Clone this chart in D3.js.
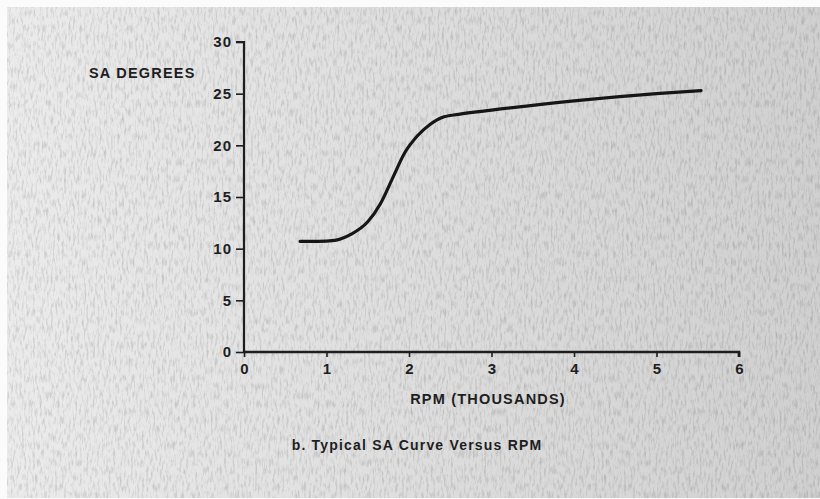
<!DOCTYPE html>
<html>
<head>
<meta charset="utf-8">
<script src="https://cdn.jsdelivr.net/npm/d3@7"></script>
<style>
  html, body { margin: 0; padding: 0; background: #fff; }
  svg { display: block; }
  text { font-family: "Liberation Sans", Arial, Helvetica, sans-serif; fill: #1e1e1e; }
</style>
</head>
<body>
<script>
// Spark advance (degrees) against engine speed (thousands of RPM)
const rpm = [0.68, 0.9, 1.1, 1.3, 1.5, 1.65, 1.8, 1.95, 2.1, 2.25, 2.4, 2.6, 3.0, 4.0, 5.0, 5.54];
const saDegrees = [10.7, 10.7, 10.8, 11.4, 12.6, 14.3, 16.8, 19.3, 20.9, 22.0, 22.7, 23.0, 23.4, 24.3, 25.0, 25.3];

const xTicks = [0, 1, 2, 3, 4, 5, 6];
const yTicks = [0, 5, 10, 15, 20, 25, 30];

const yTitle = "SA DEGREES";
const xTitle = "RPM (THOUSANDS)";
const caption = "b. Typical SA Curve Versus RPM";

const W = 820, H = 499;
const svg = d3.select("body").append("svg").attr("width", W).attr("height", H);

// paper tone: lighter on the left, greyer to the right, with soft grain
const defs = svg.append("defs");
const grad = defs.append("linearGradient").attr("id", "paper").attr("x1", 0).attr("x2", 1).attr("y1", 0).attr("y2", 0);
grad.append("stop").attr("offset", "0%").attr("stop-color", "#ebebeb");
grad.append("stop").attr("offset", "45%").attr("stop-color", "#dfdfdf");
grad.append("stop").attr("offset", "100%").attr("stop-color", "#d0d0d0");

const grain = defs.append("filter").attr("id", "grain").attr("x", 0).attr("y", 0).attr("width", "100%").attr("height", "100%");
grain.append("feTurbulence").attr("type", "fractalNoise").attr("baseFrequency", "0.45 0.12").attr("numOctaves", 3).attr("seed", 7).attr("result", "n");
grain.append("feColorMatrix").attr("in", "n").attr("type", "matrix")
  .attr("values", "0 0 0 0 0  0 0 0 0 0  0 0 0 0 0  0 0 0 -1.2 0.66");

svg.append("rect").attr("x", 0).attr("y", 0).attr("width", W).attr("height", H).attr("fill", "#fbfbfb");
svg.append("rect").attr("x", 7).attr("y", 7).attr("width", W - 7).attr("height", H - 8).attr("fill", "url(#paper)");
svg.append("rect").attr("x", 7).attr("y", 7).attr("width", W - 7).attr("height", H - 8)
  .attr("filter", "url(#grain)").attr("opacity", 0.28);

const x = d3.scaleLinear().domain([0, 6]).range([244, 739]);
const y = d3.scaleLinear().domain([0, 30]).range([352, 42]);

// y axis
const yAxis = svg.append("g").attr("transform", `translate(${x(0)},0)`)
  .call(d3.axisLeft(y).tickValues(yTicks).tickSize(8).tickPadding(4).tickFormat(d3.format("d")));
yAxis.select(".domain").attr("stroke", "#1e1e1e").attr("stroke-width", 2.2).attr("d", `M0,${y(0)}V${y(30)}H-8`);
yAxis.selectAll(".tick line").attr("stroke", "#1e1e1e").attr("stroke-width", 1.6);
yAxis.selectAll(".tick text").attr("font-size", 15).attr("font-weight", "bold").attr("fill", "#222")
  .attr("letter-spacing", 1).attr("font-family", "'Liberation Sans', Arial, sans-serif");

// x axis
const xAxis = svg.append("g").attr("transform", `translate(0,${y(0)})`)
  .call(d3.axisBottom(x).tickValues(xTicks).tickSize(5).tickPadding(6).tickFormat(d3.format("d")));
xAxis.select(".domain").attr("stroke", "#1e1e1e").attr("stroke-width", 2.6).attr("d", `M${x(0)},0H${x(6)}V5`);
xAxis.selectAll(".tick line").attr("stroke", "#1e1e1e").attr("stroke-width", 1.6);
xAxis.selectAll(".tick text").attr("font-size", 15).attr("font-weight", "bold").attr("fill", "#222")
  .attr("font-family", "'Liberation Sans', Arial, sans-serif");

// titles
svg.append("text").attr("x", 89).attr("y", 78)
  .attr("font-size", 14.5).attr("font-weight", "bold").attr("letter-spacing", 1.2)
  .text(yTitle);
svg.append("text").attr("x", 488).attr("y", 404).attr("text-anchor", "middle")
  .attr("font-size", 14.5).attr("font-weight", "bold").attr("letter-spacing", 1.2)
  .text(xTitle);
svg.append("text").attr("x", 417).attr("y", 450).attr("text-anchor", "middle")
  .attr("font-size", 14).attr("font-weight", "bold").attr("letter-spacing", 1.2).attr("fill", "#2a2a2a")
  .text(caption);

// the curve
const line = d3.line().x((d, i) => x(rpm[i])).y(d => y(d)).curve(d3.curveMonotoneX);
svg.append("path").datum(saDegrees).attr("d", line)
  .attr("fill", "none").attr("stroke", "#161616").attr("stroke-width", 3.2)
  .attr("stroke-linecap", "round").attr("stroke-linejoin", "round");
</script>
</body>
</html>
